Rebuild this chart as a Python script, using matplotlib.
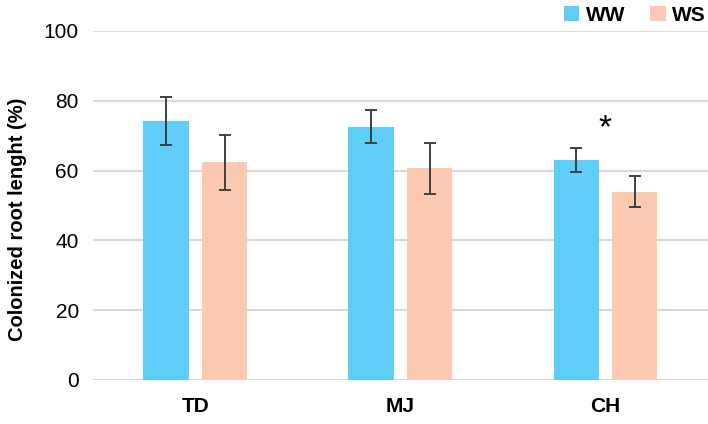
import numpy as np
import matplotlib.pyplot as plt

# Data
sites = ['TD', 'MJ', 'CH']
ww_mean = [74.2, 72.6, 63.0]
ww_err = [7.0, 4.8, 3.4]
ws_mean = [62.4, 60.6, 53.9]
ws_err = [7.9, 7.2, 4.4]

plt.rcParams['font.family'] = ['Liberation Sans', 'DejaVu Sans']

fig = plt.figure(figsize=(7.08, 4.24), dpi=100)
ax = fig.add_axes([0.131, 0.104, 0.869, 0.823])

x = np.arange(len(sites))
w = 0.22
off = 0.143
ekw = dict(ecolor='#404040', elinewidth=1.4, capsize=4, capthick=1.4)
ax.bar(x - off, ww_mean, w, yerr=ww_err, color='#5ecdf8', label='WW', error_kw=ekw, zorder=2)
ax.bar(x + off, ws_mean, w, yerr=ws_err, color='#fbcab0', label='WS', error_kw=ekw, zorder=2)

# significance mark
ax.text(x[2], 72, '*', ha='center', va='center', fontsize=24)

ax.set_xlim(-0.5, 2.5)
ax.set_ylim(0, 100)
ax.set_yticks(range(0, 101, 20))
ax.set_xticks(x)
ax.set_xticklabels(sites, fontweight='bold', fontsize=15)
ax.tick_params(axis='y', labelsize=15, length=0, pad=10)
ax.tick_params(axis='x', length=0, pad=12)
ax.grid(axis='y', color='#d9d9d9', linewidth=1.5, zorder=0)
ax.set_axisbelow(True)
for s in ax.spines.values():
    s.set_visible(False)

ax.set_ylabel('Colonized root lenght (%)', fontweight='bold', fontsize=14.5)
ax.yaxis.set_label_coords(-0.107, 0.46)

ax.legend(loc='upper right', bbox_to_anchor=(1.01, 1.095), ncol=2, frameon=False,
          prop={'weight': 'bold', 'size': 15}, handlelength=0.75, handleheight=0.75,
          handletextpad=0.3, columnspacing=1.2, borderaxespad=0)

fig.savefig('out.png', dpi=100)
